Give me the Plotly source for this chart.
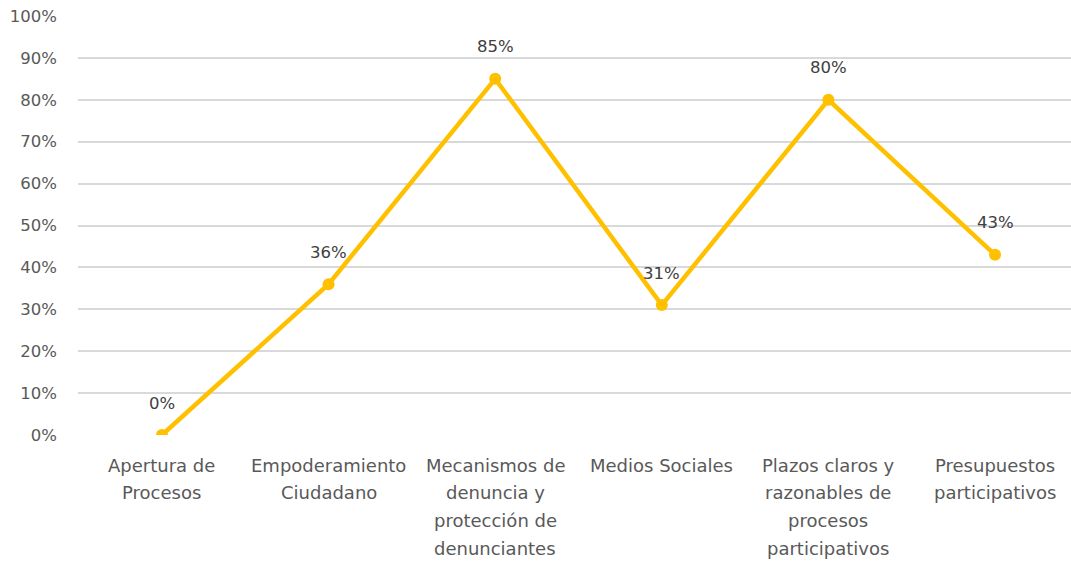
import plotly.graph_objects as go

# Categories (each list entry = one line of the wrapped axis label)
category_lines = [
    ["Apertura de", "Procesos"],
    ["Empoderamiento", "Ciudadano"],
    ["Mecanismos de", "denuncia y", "protección de", "denunciantes"],
    ["Medios Sociales"],
    ["Plazos claros y", "razonables de", "procesos", "participativos"],
    ["Presupuestos", "participativos"],
]
categories = [" ".join(lines) for lines in category_lines]
values = [0.00, 0.36, 0.85, 0.31, 0.80, 0.43]
y_ticks = [i / 10 for i in range(11)]
y_tick_labels = [f"{int(round(t * 100))}%" for t in y_ticks]

LINE_COLOR = "#FFC000"
TEXT_COLOR = "#595959"
FONT = "DejaVu Sans"
FONT_SIZE = 16.5
CAT_FONT_SIZE = 18

fig = go.Figure()
fig.add_trace(go.Scatter(
    x=categories,
    y=values,
    mode="lines+markers",
    line=dict(color=LINE_COLOR, width=4.5),
    marker=dict(color=LINE_COLOR, size=12),
    hoverinfo="skip",
    showlegend=False,
))

annotations = []
# Data labels above each point
for cat, v in zip(categories, values):
    annotations.append(dict(
        x=cat, y=v, xref="x", yref="y",
        text=f"{int(round(v * 100))}%",
        showarrow=False, yshift=32,
        font=dict(family=FONT, size=FONT_SIZE, color="#404040"),
    ))

# Wrapped category labels under the axis
LINE_STEP = 27.7
for cat, lines in zip(categories, category_lines):
    for i, line in enumerate(lines):
        annotations.append(dict(
            x=cat, y=0, xref="x", yref="paper",
            text=line, showarrow=False,
            yshift=-30 - i * LINE_STEP,
            yanchor="middle",
            font=dict(family=FONT, size=CAT_FONT_SIZE, color=TEXT_COLOR),
        ))

fig.update_layout(
    width=1071, height=561,
    margin=dict(l=78, r=0, t=16, b=126),
    paper_bgcolor="white",
    plot_bgcolor="white",
    font=dict(family=FONT, size=FONT_SIZE, color=TEXT_COLOR),
    annotations=annotations,
    xaxis=dict(
        type="category",
        range=[-0.504, 5.456],
        showticklabels=False,
        showgrid=False,
        zeroline=False,
        showline=False,
        fixedrange=True,
    ),
    yaxis=dict(
        range=[0, 1],
        tickvals=y_ticks,
        ticktext=y_tick_labels,
        showgrid=True,
        gridcolor="#D9D9D9",
        gridwidth=1.5,
        zeroline=False,
        showline=False,
        ticklabelstandoff=20,
        tickfont=dict(family=FONT, size=FONT_SIZE, color=TEXT_COLOR),
        fixedrange=True,
    ),
)

fig.write_html("out.html")
